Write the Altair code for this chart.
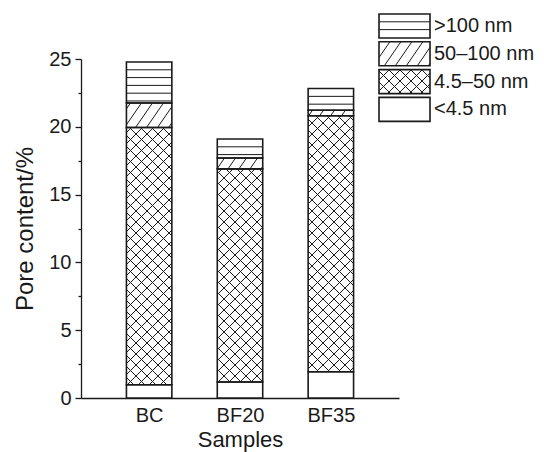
import json
import math
import altair as alt
import pandas as pd

# ---------------- data ----------------
samples = ["BC", "BF20", "BF35"]
size_ranges = ["<4.5 nm", "4.5–50 nm", "50–100 nm", ">100 nm"]
below_4_5 = [0.98, 1.18, 1.94]
from_4_5_to_50 = [18.97, 15.72, 18.88]
from_50_to_100 = [1.80, 0.80, 0.40]
above_100 = [3.03, 1.40, 1.60]
y_tick_values = [0, 2.5, 5, 7.5, 10, 12.5, 15, 17.5, 20, 22.5, 25]

# ---------------- layout / style ----------------
W, H = 318, 339
X_DOMAIN = [-0.75, 2.75]
Y_DOMAIN = [0, 25]
HALF = 0.25
FONT = "Liberation Sans"
INK = "#1a1a1a"
PATTERN = {"<4.5 nm": None, "4.5–50 nm": "cross", "50–100 nm": "diag", ">100 nm": "horiz"}
SX = W / (X_DOMAIN[1] - X_DOMAIN[0])
SY = H / (Y_DOMAIN[1] - Y_DOMAIN[0])

# legend layout (pixels, relative to plot area)
LEG_LEFT, LEG_W, LEG_H, LEG_TOP, LEG_PITCH = 298, 51, 24, -45, 27.8


def hatch_px(X0, X1, Y0, Y1, kind):
    """Hatch segments inside a rectangle given in pixel space (Y pointing up)."""
    segs = []
    if kind is None:
        return segs
    if kind == "horiz":
        y = Y1 - 7.8
        while y > Y0 + 2:
            segs.append((X0, y, X1, y))
            y -= 7.8
        return segs
    fams = [(1, 1.45, 11.0)] if kind == "diag" else [(1, 1.0, 11.0), (-1, 1.0, 11.0)]
    for sign, m, per in fams:
        step = m * per
        if sign > 0:
            lo, hi = Y0 - m * X1, Y1 - m * X0
        else:
            lo, hi = Y0 + m * X0, Y1 + m * X1
        k = math.floor(lo / step)
        while k * step <= hi:
            c = k * step
            k += 1
            if sign > 0:
                xa, xb = max(X0, (Y0 - c) / m), min(X1, (Y1 - c) / m)
            else:
                xa, xb = max(X0, (c - Y1) / m), min(X1, (c - Y0) / m)
            if xb - xa > 0.4:
                segs.append((xa, sign * m * xa + c, xb, sign * m * xb + c))
    return segs


# ---------------- tables built from the arrays ----------------
series = [below_4_5, from_4_5_to_50, from_50_to_100, above_100]
bar_rows, hatch_rows = [], []
for i, s in enumerate(samples):
    base = 0.0
    for j, r in enumerate(size_ranges):
        top = base + series[j][i]
        bar_rows.append({"sample": s, "range": r, "x": i - HALF, "x2": i + HALF, "y": base, "y2": top})
        X0 = (i - HALF - X_DOMAIN[0]) * SX
        X1 = (i + HALF - X_DOMAIN[0]) * SX
        for (xa, ya, xb, yb) in hatch_px(X0, X1, base * SY, top * SY, PATTERN[r]):
            hatch_rows.append({"x": xa / SX + X_DOMAIN[0], "y": ya / SY,
                               "x2": xb / SX + X_DOMAIN[0], "y2": yb / SY})
        base = top
bars = pd.DataFrame(bar_rows)
hatch = pd.DataFrame(hatch_rows)

leg_rows, leg_hatch_rows = [], []
for k, r in enumerate(reversed(size_ranges)):
    t = LEG_TOP + k * LEG_PITCH
    leg_rows.append({"range": r, "x": LEG_LEFT, "x2": LEG_LEFT + LEG_W, "y": t, "y2": t + LEG_H,
                     "tx": LEG_LEFT + LEG_W + 4, "ty": t + LEG_H / 2})
    for (xa, ya, xb, yb) in hatch_px(LEG_LEFT, LEG_LEFT + LEG_W, -(t + LEG_H), -t, PATTERN[r]):
        leg_hatch_rows.append({"x": xa, "y": -ya, "x2": xb, "y2": -yb})
legend = pd.DataFrame(leg_rows)
leg_hatch = pd.DataFrame(leg_hatch_rows)

# ---------------- scales & axes ----------------
x_scale = alt.Scale(domain=X_DOMAIN, nice=False, zero=False)
y_scale = alt.Scale(domain=Y_DOMAIN, nice=False)
x_axis = alt.Axis(values=[0, 1, 2], labelExpr=json.dumps(samples) + "[datum.value]",
                  ticks=False, tickSize=0, grid=False, title="Samples",
                  labelPadding=7, titlePadding=4, labelFontSize=20, titleFontSize=22)
y_axis = alt.Axis(values=y_tick_values, grid=False, title="Pore content/%",
                  labelExpr="datum.value % 5 === 0 ? datum.label : ''",
                  tickSize={"condition": {"test": "datum.value % 5 === 0", "value": 6}, "value": 3},
                  labelPadding=4, titlePadding=11, labelFontSize=20, titleFontSize=24)


def xy():
    return dict(
        x=alt.X("x:Q", scale=x_scale, axis=x_axis),
        y=alt.Y("y:Q", scale=y_scale, axis=y_axis),
        x2="x2:Q",
        y2="y2:Q",
    )


bar_fill = alt.Chart(bars).mark_rect(fill="white", strokeWidth=0).encode(**xy())
bar_hatch = alt.Chart(hatch).mark_rule(color=INK, strokeWidth=1).encode(**xy())
bar_outline = alt.Chart(bars).mark_rect(fill="white", fillOpacity=0, stroke=INK,
                                        strokeWidth=1.6).encode(**xy())

pix = dict(
    x=alt.X("x:Q", scale=None, axis=None),
    y=alt.Y("y:Q", scale=None, axis=None),
    x2="x2:Q",
    y2="y2:Q",
)
leg_fill = alt.Chart(legend).mark_rect(fill="white", strokeWidth=0).encode(**pix)
leg_lines = alt.Chart(leg_hatch).mark_rule(color=INK, strokeWidth=1).encode(**pix)
leg_outline = alt.Chart(legend).mark_rect(fill="white", fillOpacity=0, stroke=INK,
                                          strokeWidth=1.6).encode(**pix)
leg_text = alt.Chart(legend).mark_text(align="left", baseline="middle", fontSize=20,
                                       font=FONT, color=INK).encode(
    x=alt.X("tx:Q", scale=None, axis=None),
    y=alt.Y("ty:Q", scale=None, axis=None),
    text="range:N",
)

chart = alt.layer(
    bar_fill, bar_hatch, bar_outline, leg_fill, leg_lines, leg_outline, leg_text
).properties(
    width=W, height=H,
    padding={"left": 13, "top": 13, "right": 5, "bottom": 2},
).configure_view(stroke=None).configure_axis(
    domainColor=INK, domainWidth=1.3, tickColor=INK, tickWidth=1.3,
    labelColor=INK, titleColor=INK, labelFont=FONT, titleFont=FONT,
    titleFontWeight="normal",
)

chart.save("out.html", embed_options={"renderer": "svg", "actions": False})
